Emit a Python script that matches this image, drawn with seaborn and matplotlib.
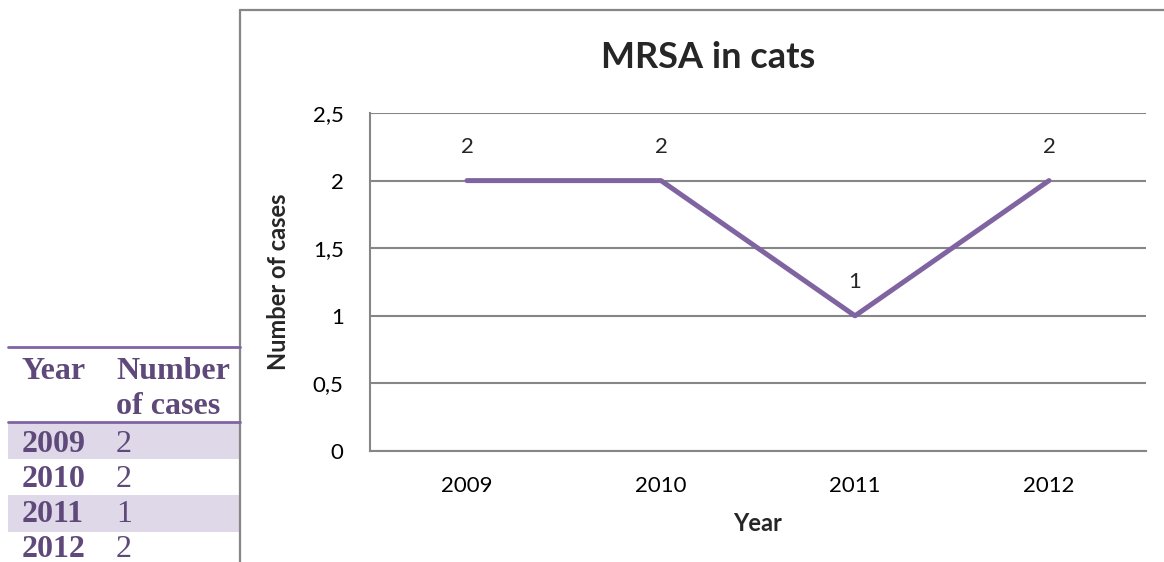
import matplotlib.pyplot as plt
import seaborn as sns
import pandas as pd
from matplotlib.patches import Rectangle
from matplotlib.lines import Line2D

years = ['2009', '2010', '2011', '2012']
cases = [2, 2, 1, 2]
yticks = [0, 0.5, 1, 1.5, 2, 2.5]

df = pd.DataFrame({'Year': years, 'Number of cases': cases})

purple = '#8064A2'
dark_purple = '#5F497A'
shade = '#DFD8E8'
grey = '#868686'

sns.set_theme(style='white')
plt.rcParams['font.family'] = ['Lato', 'DejaVu Sans']

fig = plt.figure(figsize=(11.64, 5.62), dpi=100)

# overlay in pixel coordinates for the table and chart frame
ov = fig.add_axes([0, 0, 1, 1])
ov.set_xlim(0, 1164)
ov.set_ylim(562, 0)
ov.axis('off')

# chart frame
ov.add_line(Line2D([240, 240], [10, 562], color=grey, lw=1.6))
ov.add_line(Line2D([240, 1164], [10, 10], color=grey, lw=1.6))

# table on the left
ov.add_line(Line2D([8, 240], [347, 347], color=purple, lw=2))
ov.add_line(Line2D([8, 240], [422, 422], color=purple, lw=2))
serif = ['Liberation Serif', 'DejaVu Serif']
fs = 23
ov.text(22, 379, 'Year', family=serif, fontsize=fs, fontweight='bold', color=dark_purple, va='baseline')
ov.text(116, 379, 'Number', family=serif, fontsize=fs, fontweight='bold', color=dark_purple, va='baseline')
ov.text(116, 414, 'of cases', family=serif, fontsize=fs, fontweight='bold', color=dark_purple, va='baseline')
row_top = 422
row_h = 36.5
text_h = 35
for i, (yr, n) in enumerate(zip(years, cases)):
    top = row_top + i * row_h
    if i % 2 == 0:
        ov.add_patch(Rectangle((8, top), 232, row_h, color=shade, lw=0, zorder=0))
    base = row_top + 30 + i * text_h
    ov.text(22, base, yr, family=serif, fontsize=fs, fontweight='bold', color=dark_purple, va='baseline')
    ov.text(116, base, str(n), family=serif, fontsize=fs, color=dark_purple, va='baseline')

# line chart
ax = fig.add_axes([370 / 1164, 111 / 562, 776 / 1164, 338 / 562])
sns.lineplot(data=df, x='Year', y='Number of cases', ax=ax, color=purple, lw=3.6, sort=False)
ax.set_xlim(-0.5, len(years) - 0.5)
ax.set_ylim(0, 2.5)
ax.set_yticks(yticks)
ax.set_yticklabels([f'{v:g}'.replace('.', ',') for v in yticks])
ax.yaxis.grid(True, color=grey, lw=1.5)
ax.set_axisbelow(True)
for s in ['top', 'right']:
    ax.spines[s].set_visible(False)
for s in ['left', 'bottom']:
    ax.spines[s].set_color(grey)
    ax.spines[s].set_linewidth(1.5)
ax.tick_params(axis='both', length=0, labelsize=16, colors='black')
ax.tick_params(axis='y', pad=19)
ax.tick_params(axis='x', pad=18)
ax.set_xlabel('Year', fontsize=17, fontweight='bold')
ax.set_ylabel('Number of cases', fontsize=17, fontweight='bold')
ax.xaxis.set_label_coords(0.5, -0.18)
ax.yaxis.set_label_coords(-0.103, 0.5)

for i, n in enumerate(cases):
    ax.annotate(str(n), (i, n), xytext=(0, 24), textcoords='offset points',
                ha='center', va='center', fontsize=16)

fig.text(708 / 1164, 1 - 58 / 562, 'MRSA in cats', ha='center', va='center',
         fontsize=26, fontweight='bold')

plt.savefig('out.png', dpi=100)
